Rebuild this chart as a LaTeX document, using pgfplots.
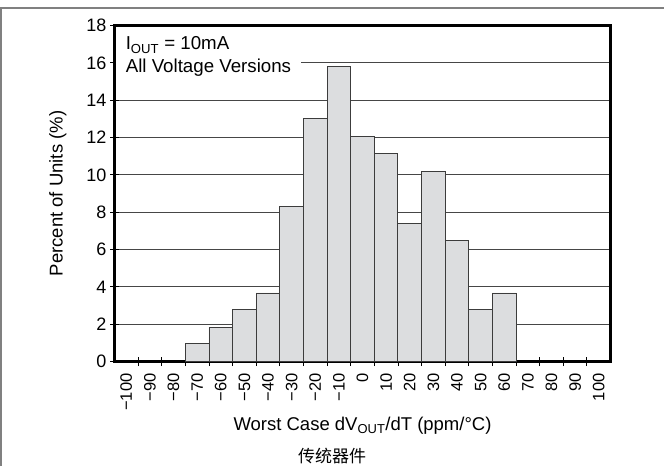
\documentclass[border=0pt]{standalone}
\usepackage{pgfplots}
\pgfplotsset{compat=1.18}
\usepackage{fontspec}
\setmainfont{Liberation Sans}
\newfontfamily\cjk{Noto Sans CJK SC}
\definecolor{barfill}{RGB}{220,221,223}
\definecolor{baredge}{RGB}{60,60,60}
\definecolor{gridc}{RGB}{70,70,70}
\definecolor{framec}{RGB}{128,128,128}
\begin{document}
\begin{tikzpicture}
\path[use as bounding box] (0,0) rectangle (664pt,466pt);
\draw[framec, line width=1.5pt] (0.75pt,0) -- (0.75pt,458pt);
\draw[framec, line width=1.5pt] (0,458pt) -- (664pt,458pt);
\begin{axis}[
  at={(114.5pt,104.5pt)}, anchor=south west,
  scale only axis, width=496pt, height=336pt,
  xmin=-105, xmax=105, ymin=0, ymax=18,
  xtick={-100,-90,...,100},
  xticklabels={−100,−90,−80,−70,−60,−50,−40,−30,−20,−10,0,10,20,30,40,50,60,70,80,90,100},
  minor xtick={-95,-85,...,95},
  ytick={0,2,...,18},
  xtick pos=bottom, ytick pos=left,
  tick align=center, major tick length=9pt, minor tick length=9pt,
  xtick style={draw=none},
  minor x tick style={draw=black, line width=0.8pt},
  ytick style={black, line width=0.8pt},
  axis line style={black, line width=2.2pt},
  ymajorgrids, grid style={gridc, line width=0.8pt},
  /pgf/number format/assume math mode=true,
  tick label style={font=\fontsize{18}{20}\selectfont},
  xticklabel style={rotate=90, anchor=east, font=\fontsize{16.5}{18}\selectfont},
  xticklabel shift=4pt,
  xlabel={Worst Case dV\textsubscript{OUT}/dT (ppm/°C)},
  ylabel={Percent of Units (\%)},
  label style={font=\fontsize{18.5}{21}\selectfont},
  xlabel style={at={(axis description cs:0.5,-0.191)}, anchor=center},
  ylabel style={at={(axis description cs:-0.1142,0.5)}, anchor=center},
]
\addplot[ybar interval, fill=barfill, draw=baredge, line width=0.9pt] coordinates {
 (-75,0.95) (-65,1.84) (-55,2.78) (-45,3.67) (-35,8.33) (-25,13.02) (-15,15.81)
 (-5,12.05) (5,11.12) (15,7.41) (25,10.17) (35,6.46) (45,2.78) (55,3.67) (65,0)
};
\node[fill=white, anchor=north west, align=left, inner xsep=10pt, inner ysep=10pt,
      font=\fontsize{18.7}{23}\selectfont]
  at ([xshift=1.1pt,yshift=-1.1pt]rel axis cs:0,1)
  {I\textsubscript{OUT} = 10mA\\All Voltage Versions};
\end{axis}
\node[font=\cjk\fontsize{17}{19}\selectfont] at (332pt,10pt) {传统器件};
\end{tikzpicture}
\end{document}
